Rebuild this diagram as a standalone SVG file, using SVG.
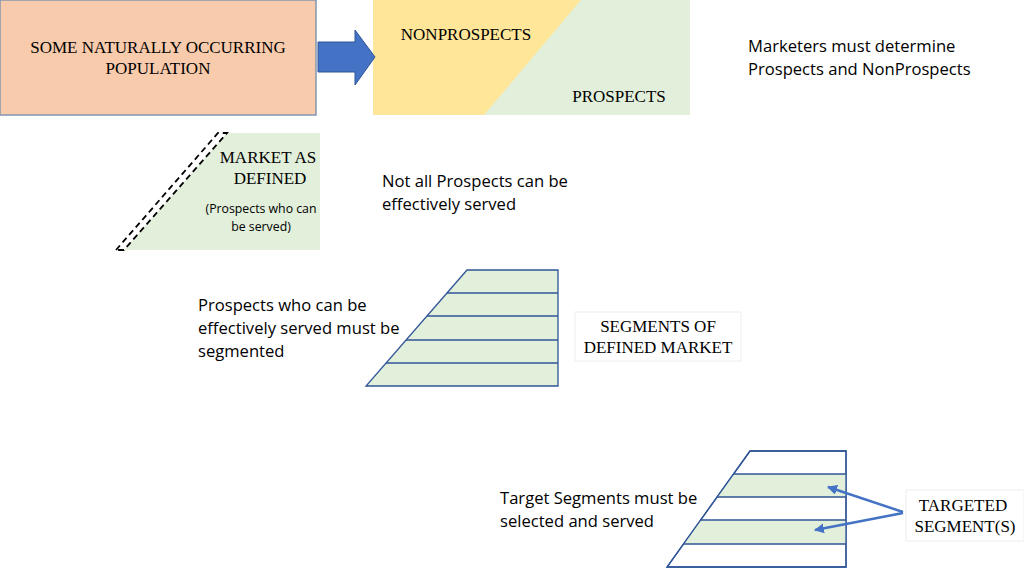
<svg xmlns="http://www.w3.org/2000/svg" width="1024" height="576" viewBox="0 0 1024 576">
<style>
.serif{font-family:"Liberation Serif",serif;font-size:17px;fill:#000}
.sans{font-family:"Open Sans","Noto Sans",sans-serif;font-size:16.6px;fill:#000}
.small{font-family:"Open Sans","Noto Sans",sans-serif;font-size:12.3px;fill:#000}
.seg{stroke:#2f5597;stroke-width:1.3}
.ln{stroke:#4472c4;stroke-width:2.5;fill:none}
</style>
<defs>
<marker id="ah" viewBox="0 0 10 10" refX="9" refY="5" markerWidth="4" markerHeight="4" orient="auto"><path d="M0,0L10,5L0,10z" fill="#4472c4"/></marker>
</defs>
<rect width="1024" height="576" fill="#fff"/>
<g id="population">
<rect x="0" y="0" width="316" height="115" fill="#f8cbad" stroke="#8497b0" stroke-width="1.5"/>
<text class="serif" x="158" y="53" text-anchor="middle">SOME NATURALLY OCCURRING</text>
<text class="serif" x="158" y="74" text-anchor="middle">POPULATION</text>
</g>
<g id="prospects">
<rect x="373" y="0" width="317" height="115" fill="#e2efda"/>
<polygon points="373,0 581,0 484,115 373,115" fill="#ffe699"/>
<text class="serif" x="466" y="40" text-anchor="middle">NONPROSPECTS</text>
<text class="serif" x="619" y="102" text-anchor="middle">PROSPECTS</text>
</g>
<g id="note1">
<text class="sans" x="748" y="52">Marketers must determine</text>
<text class="sans" x="748" y="75">Prospects and NonProspects</text>
</g>
<g id="market">
<polygon points="124,250 227,133 320,133 320,250" fill="#e2efda"/>
<polygon points="116,250 218,133 227,133 124,250" fill="none" stroke="#000" stroke-width="1.8" stroke-dasharray="6,4"/>
<text class="serif" x="268" y="163" text-anchor="middle">MARKET AS</text>
<text class="serif" x="270" y="184" text-anchor="middle">DEFINED</text>
<text class="small" x="261" y="213" text-anchor="middle">(Prospects who can</text>
<text class="small" x="261" y="231" text-anchor="middle">be served)</text>
</g>
<g id="note2">
<text class="sans" x="382" y="187">Not all Prospects can be</text>
<text class="sans" x="382" y="210">effectively served</text>
</g>
<g id="segments">
<polygon points="467,270 558,270 558,386 366,386" fill="#e2efda" class="seg"/>
<line class="seg" x1="447" y1="293" x2="558" y2="293"/>
<line class="seg" x1="427" y1="316" x2="558" y2="316"/>
<line class="seg" x1="406" y1="340" x2="558" y2="340"/>
<line class="seg" x1="386" y1="363" x2="558" y2="363"/>
</g>
<g id="note3">
<text class="sans" x="198" y="311">Prospects who can be</text>
<text class="sans" x="198" y="334">effectively served must be</text>
<text class="sans" x="198" y="357">segmented</text>
</g>
<g id="seglabel">
<rect x="575" y="312" width="166" height="49" fill="#fff" stroke="#eee"/>
<text class="serif" x="658" y="332" text-anchor="middle">SEGMENTS OF</text>
<text class="serif" x="658" y="353" text-anchor="middle">DEFINED MARKET</text>
</g>
<g id="target">
<polygon points="750,451 846,451 846,567 667,567" fill="#fff" class="seg"/>
<polygon points="733.5,474 846,474 846,497 717,497" fill="#e2efda"/>
<polygon points="700.5,520 846,520 846,544 683,544" fill="#e2efda"/>
<line class="seg" x1="733.5" y1="474" x2="846" y2="474"/>
<line class="seg" x1="717" y1="497" x2="846" y2="497"/>
<line class="seg" x1="700.5" y1="520" x2="846" y2="520"/>
<line class="seg" x1="683" y1="544" x2="846" y2="544"/>
<polygon points="750,451 846,451 846,567 667,567" fill="none" class="seg"/>
</g>
<g id="note4">
<text class="sans" x="500" y="504">Target Segments must be</text>
<text class="sans" x="500" y="527">selected and served</text>
</g>
<g id="targetlabel">
<rect x="906" y="490" width="118" height="51" fill="#fff" stroke="#eee"/>
<text class="serif" x="963" y="511" text-anchor="middle">TARGETED</text>
<text class="serif" x="965" y="532" text-anchor="middle">SEGMENT(S)</text>
</g>
<g id="connectors">
<polygon points="318,42 355,42 355,30 375,57 355,85 355,72 318,72" fill="#4472c4" stroke="#2f5597"/>
<line class="ln" x1="903" y1="512" x2="828" y2="487" marker-end="url(#ah)"/>
<line class="ln" x1="903" y1="513" x2="815" y2="530" marker-end="url(#ah)"/>
</g>
</svg>
